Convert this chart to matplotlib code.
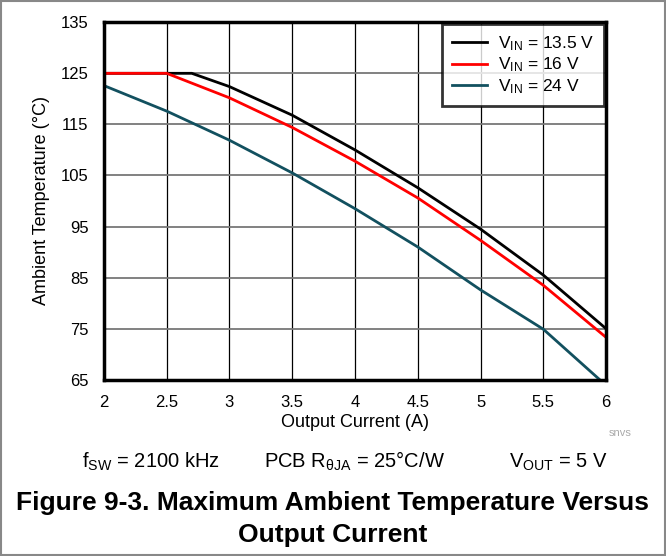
import matplotlib
matplotlib.use("Agg")
import matplotlib.pyplot as plt
from matplotlib.patches import Rectangle

plt.rcParams['font.family'] = ['Liberation Sans', 'DejaVu Sans']
plt.rcParams['mathtext.fontset'] = 'custom'
plt.rcParams['mathtext.rm'] = 'Liberation Sans'
plt.rcParams['mathtext.it'] = 'Liberation Sans:italic'

# data
x_135 = [2, 2.7, 3, 3.5, 4, 4.5, 5, 5.5, 6]
t_135 = [125, 125, 122.4, 116.8, 110, 102.6, 94.5, 85.5, 75]
x_16 = [2, 2.5, 3, 3.5, 4, 4.5, 5, 5.5, 6]
t_16 = [125, 125, 120.2, 114.4, 107.8, 100.6, 92.3, 83.5, 73.3]
x_24 = [2, 2.5, 3, 3.5, 4, 4.5, 5, 5.5, 5.95]
t_24 = [122.6, 117.6, 111.9, 105.5, 98.5, 91, 82.6, 74.9, 65]

fig = plt.figure(figsize=(6.66, 5.56), dpi=100)
ax = fig.add_axes([0.156, 0.317, 0.754, 0.643])

ax.plot(x_135, t_135, color='black', lw=2, label=r'$\mathregular{V_{IN}}$ = 13.5 V')
ax.plot(x_16, t_16, color='#ff0000', lw=2, label=r'$\mathregular{V_{IN}}$ = 16 V')
ax.plot(x_24, t_24, color='#12505f', lw=2, label=r'$\mathregular{V_{IN}}$ = 24 V')

ax.set_xlim(2, 6)
ax.set_ylim(65, 135)
ax.set_xticks([2, 2.5, 3, 3.5, 4, 4.5, 5, 5.5, 6])
ax.set_xticklabels(['2', '2.5', '3', '3.5', '4', '4.5', '5', '5.5', '6'])
ax.set_yticks(range(65, 136, 10))
ax.tick_params(length=0, labelsize=12)
ax.tick_params(axis='x', pad=11)
ax.tick_params(axis='y', pad=11)
ax.xaxis.grid(True, color='black', lw=0.9)
ax.yaxis.grid(True, color='#777777', lw=1.3)
for s in ax.spines.values():
    s.set_linewidth(2.5)
ax.set_xlabel('Output Current (A)', fontsize=13, labelpad=3)
ax.set_ylabel('Ambient Temperature (°C)', fontsize=13, labelpad=8)

leg = ax.legend(loc='upper right', fontsize=12.5, handlelength=2.0, frameon=True,
                fancybox=False, borderaxespad=0.1, labelspacing=0.15,
                handletextpad=0.6, borderpad=0.6)
leg.get_frame().set_edgecolor('black')
leg.get_frame().set_linewidth(2)

fig.text(620 / 666, 1 - 433 / 556, 'snvs', fontsize=8, color='#aaaaaa', ha='center', va='center')
fig.text(151 / 666, 1 - 468 / 556, r'$\mathregular{f_{SW}}$ = 2100 kHz', fontsize=14.5, ha='center', va='baseline')
fig.text(354 / 666, 1 - 468 / 556, r'PCB $\mathregular{R_{\theta JA}}$ = 25°C/W', fontsize=14.5, ha='center', va='baseline')
fig.text(558 / 666, 1 - 468 / 556, r'$\mathregular{V_{OUT}}$ = 5 V', fontsize=14.5, ha='center', va='baseline')
fig.text(0.499, 1 - 510 / 556, 'Figure 9-3. Maximum Ambient Temperature Versus',
         fontsize=19, fontweight='bold', ha='center', va='baseline')
fig.text(0.499, 1 - 542 / 556, 'Output Current',
         fontsize=19, fontweight='bold', ha='center', va='baseline')

fig.patches.append(Rectangle((0.001, 0.001), 0.998, 0.998, transform=fig.transFigure,
                             fill=False, edgecolor='#888888', lw=1.5))

fig.savefig('out.png', dpi=100)
